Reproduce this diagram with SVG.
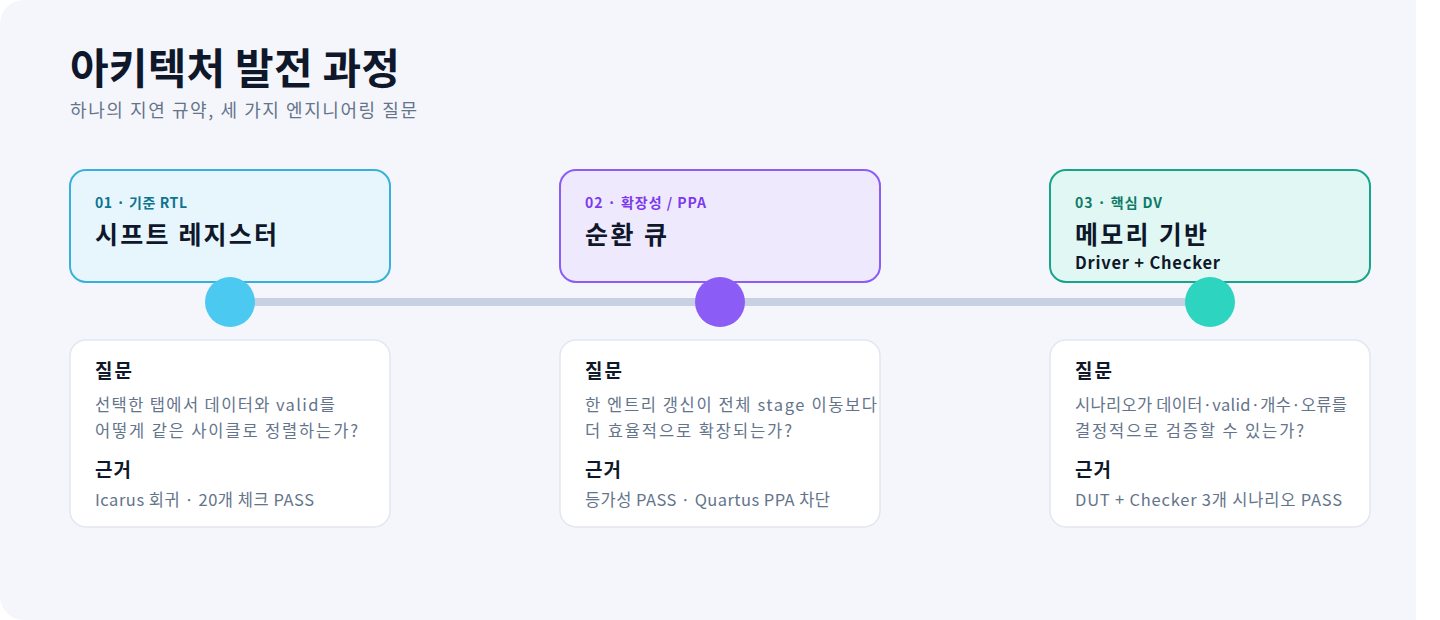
<svg xmlns="http://www.w3.org/2000/svg" width="1440" height="620" viewBox="0 0 1440 620">
  <style>
    text { font-family: "Noto Sans CJK KR", "Noto Sans", sans-serif; }
    .title { font-size: 42px; font-weight: 700; fill: #0f172a; }
    .subtitle { font-size: 18px; fill: #64748b; }
    .label { font-size: 14px; font-weight: 700; }
    .name { font-size: 25px; font-weight: 700; fill: #0f172a; }
    .sub { font-size: 16.5px; font-weight: 700; fill: #0f172a; }
    .head { font-size: 19px; font-weight: 700; fill: #0f172a; }
    .body { font-size: 16.5px; fill: #64748b; }
    .detail { fill: #ffffff; stroke: #e2e6f0; stroke-width: 1.5; }
  </style>
  <rect x="0" y="0" width="1440" height="620" fill="#ffffff"/>
  <path d="M24 0 H1416 V620 H24 A24 24 0 0 1 0 596 V24 A24 24 0 0 1 24 0 Z" fill="#f5f6fb"/>

  <text class="title" x="70" y="84" textLength="330" lengthAdjust="spacing">아키텍처 발전 과정</text>
  <text class="subtitle" x="70" y="117" textLength="347" lengthAdjust="spacing">하나의 지연 규약, 세 가지 엔지니어링 질문</text>

  <g id="connectors">
    <rect x="230" y="298" width="980" height="8" fill="#c8d0e4"/>
  </g>

  <g id="node-1">
    <rect x="70" y="170" width="320" height="112" rx="16" fill="#e7f6fc" stroke="#38b0dc" stroke-width="2"/>
    <text class="label" x="95" y="208" fill="#0e7490" textLength="92" lengthAdjust="spacing">01 · 기준 RTL</text>
    <text class="name" x="95" y="244" textLength="182" lengthAdjust="spacing">시프트 레지스터</text>
    <circle cx="230" cy="302" r="25" fill="#4cc9f0"/>
    <rect class="detail" x="70" y="340" width="320" height="187" rx="16"/>
    <text class="head" x="95" y="378" textLength="37" lengthAdjust="spacing">질문</text>
    <text class="body" x="95" y="411" textLength="240" lengthAdjust="spacing">선택한 탭에서 데이터와 valid를</text>
    <text class="body" x="95" y="437" textLength="263" lengthAdjust="spacing">어떻게 같은 사이클로 정렬하는가?</text>
    <text class="head" x="95" y="477" textLength="36" lengthAdjust="spacing">근거</text>
    <text class="body" x="95" y="506" textLength="219" lengthAdjust="spacing">Icarus 회귀 · 20개 체크 PASS</text>
  </g>

  <g id="node-2">
    <rect x="560" y="170" width="320" height="112" rx="16" fill="#efe9fe" stroke="#8b5cf6" stroke-width="2"/>
    <text class="label" x="585" y="208" fill="#7c3aed" textLength="121" lengthAdjust="spacing">02 · 확장성 / PPA</text>
    <text class="name" x="585" y="244" textLength="82" lengthAdjust="spacing">순환 큐</text>
    <circle cx="720" cy="302" r="25" fill="#8b5cf6"/>
    <rect class="detail" x="560" y="340" width="320" height="187" rx="16"/>
    <text class="head" x="585" y="378" textLength="37" lengthAdjust="spacing">질문</text>
    <text class="body" x="585" y="411" textLength="292" lengthAdjust="spacing">한 엔트리 갱신이 전체 stage 이동보다</text>
    <text class="body" x="585" y="437" textLength="207" lengthAdjust="spacing">더 효율적으로 확장되는가?</text>
    <text class="head" x="585" y="477" textLength="36" lengthAdjust="spacing">근거</text>
    <text class="body" x="585" y="506" textLength="245" lengthAdjust="spacing">등가성 PASS · Quartus PPA 차단</text>
  </g>

  <g id="node-3">
    <rect x="1050" y="170" width="320" height="112" rx="16" fill="#e1f7f3" stroke="#17a589" stroke-width="2"/>
    <text class="label" x="1075" y="208" fill="#0f7a68" textLength="87" lengthAdjust="spacing">03 · 핵심 DV</text>
    <text class="name" x="1075" y="244" textLength="132" lengthAdjust="spacing">메모리 기반</text>
    <text class="sub" x="1075" y="269" textLength="145" lengthAdjust="spacing">Driver + Checker</text>
    <circle cx="1210" cy="302" r="25" fill="#2dd4bf"/>
    <rect class="detail" x="1050" y="340" width="320" height="187" rx="16"/>
    <text class="head" x="1075" y="378" textLength="37" lengthAdjust="spacing">질문</text>
    <text class="body" x="1075" y="411" textLength="272" lengthAdjust="spacing">시나리오가 데이터·valid·개수·오류를</text>
    <text class="body" x="1075" y="437" textLength="229" lengthAdjust="spacing">결정적으로 검증할 수 있는가?</text>
    <text class="head" x="1075" y="477" textLength="36" lengthAdjust="spacing">근거</text>
    <text class="body" x="1075" y="506" textLength="267" lengthAdjust="spacing">DUT + Checker 3개 시나리오 PASS</text>
  </g>
</svg>
